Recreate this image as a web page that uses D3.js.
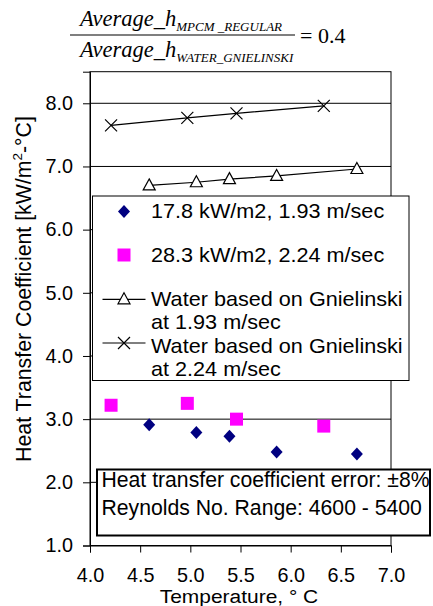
<!DOCTYPE html>
<html>
<head>
<meta charset="utf-8">
<script src="https://cdn.jsdelivr.net/npm/d3@7/dist/d3.min.js"></script>
<style>
  html, body { margin: 0; padding: 0; background: #fff; }
  svg { display: block; }
  text { font-family: "Liberation Sans", Arial, sans-serif; fill: #000; }
  .serif { font-family: "Liberation Serif", "Times New Roman", serif; }
</style>
</head>
<body>
<svg id="chart" width="433" height="606"></svg>
<script>
// Temperatures (°C) for the 1.93 m/sec runs and the 2.24 m/sec runs
const tempLow = [4.59, 5.06, 5.39, 5.86, 6.66];
const tempHigh = [4.21, 4.97, 5.46, 6.33];

// Measured heat transfer coefficients [kW/m²-°C]
const hMpcmLow = [2.91, 2.79, 2.73, 2.48, 2.45];    // 17.8 kW/m2, 1.93 m/sec
const hMpcmHigh = [3.22, 3.25, 3.00, 2.89];         // 28.3 kW/m2, 2.24 m/sec

// Gnielinski correlation for water
const hWaterLow = [6.70, 6.75, 6.80, 6.85, 6.96];   // 1.93 m/sec
const hWaterHigh = [7.65, 7.77, 7.84, 7.96];        // 2.24 m/sec

const xTicks = [4.0, 4.5, 5.0, 5.5, 6.0, 6.5, 7.0];
const yTicks = [1, 2, 3, 4, 5, 6, 7, 8];

const legendLabels = [
  ["17.8 kW/m2, 1.93 m/sec"],
  ["28.3 kW/m2, 2.24 m/sec"],
  ["Water based on Gnielinski", "at 1.93 m/sec"],
  ["Water based on Gnielinski", "at 2.24 m/sec"]
];
const noteLines = [
  "Heat transfer coefficient error: \u00b18%",
  "Reynolds No. Range: 4600 - 5400"
];

const svg = d3.select("#chart");
const plotL = 90, plotR = 391, plotT = 71.7, plotB = 545.5;

const x = d3.scaleLinear().domain([4, 7]).range([plotL, plotR]);
const y = d3.scaleLinear().domain([1, 8.5]).range([plotB, plotT]);

// Gridlines
svg.append("g").selectAll("line").data(yTicks.filter(v => v > 1)).join("line")
  .attr("x1", plotL).attr("x2", plotR)
  .attr("y1", d => y(d)).attr("y2", d => y(d))
  .attr("stroke", "#000").attr("stroke-width", 1);

// Plot frame
svg.append("rect")
  .attr("x", plotL).attr("y", plotT)
  .attr("width", plotR - plotL).attr("height", plotB - plotT)
  .attr("fill", "none").attr("stroke", "#000").attr("stroke-width", 1);

// Axes
const yAxis = svg.append("g").attr("transform", `translate(${plotL},0)`)
  .call(d3.axisLeft(y).tickValues(yTicks).tickFormat(d3.format(".1f")).tickSizeOuter(0).tickSize(7).tickPadding(10));
const xAxis = svg.append("g").attr("transform", `translate(0,${plotB})`)
  .call(d3.axisBottom(x).tickValues(xTicks).tickFormat(d3.format(".1f")).tickSizeOuter(0).tickSize(7).tickPadding(15.5));
[yAxis, xAxis].forEach(a => {
  a.select(".domain").attr("stroke", "#000");
  a.selectAll(".tick line").attr("stroke", "#000");
  a.selectAll("text").attr("font-size", 19.8).attr("font-family", "Liberation Sans, Arial, sans-serif").attr("fill", "#000");
});

// Marker shapes
const triPath = "M0,-6.5L6,4.5L-6,4.5Z";
const crossPath = "M-6,-6L6,6M-6,6L6,-6";
const diamondPath = "M0,-6.5L6,0L0,6.5L-6,0Z";
const squarePath = "M-6.5,-6.5H6.5V6.5H-6.5Z";

const line = d3.line().x(d => x(d[0])).y(d => y(d[1]));

function drawSeries(xs, ys, path, opts) {
  const pts = xs.map((v, i) => [v, ys[i]]);
  if (opts.line) {
    svg.append("path").datum(pts).attr("d", line)
      .attr("fill", "none").attr("stroke", "#000").attr("stroke-width", 1.2);
  }
  svg.append("g").selectAll("path").data(pts).join("path")
    .attr("transform", d => `translate(${x(d[0])},${y(d[1])})`)
    .attr("d", path)
    .attr("fill", opts.fill).attr("stroke", opts.stroke).attr("stroke-width", opts.sw || 1.2);
}

drawSeries(tempHigh, hWaterHigh, crossPath, { line: true, fill: "none", stroke: "#000" });
drawSeries(tempLow, hWaterLow, triPath, { line: true, fill: "#fff", stroke: "#000" });
drawSeries(tempLow, hMpcmLow, diamondPath, { fill: "#000080", stroke: "none" });
drawSeries(tempHigh, hMpcmHigh, squarePath, { fill: "#ff00ff", stroke: "none" });

// Legend
const lg = svg.append("g");
lg.append("rect").attr("x", 92.5).attr("y", 196).attr("width", 316.5).attr("height", 184.5)
  .attr("fill", "#fff").attr("stroke", "#000").attr("stroke-width", 1);
const symX = 124, textX = 151;
const symRows = [211.5, 255, 299.3, 343];
lg.append("path").attr("transform", `translate(${symX},${symRows[0]})`).attr("d", diamondPath).attr("fill", "#000080");
lg.append("path").attr("transform", `translate(${symX},${symRows[1]})`).attr("d", squarePath).attr("fill", "#ff00ff");
[[2, triPath, "#fff"], [3, crossPath, "none"]].forEach(([i, p, f]) => {
  lg.append("line").attr("x1", 102.5).attr("x2", 145.5).attr("y1", symRows[i]).attr("y2", symRows[i])
    .attr("stroke", "#000").attr("stroke-width", 1.2);
  lg.append("path").attr("transform", `translate(${symX},${symRows[i]})`).attr("d", p)
    .attr("fill", f).attr("stroke", "#000").attr("stroke-width", 1.2);
});
const textRows = [217.5, 261.5, 306, 352.5];
legendLabels.forEach((lines, i) => {
  lines.forEach((t, j) => {
    lg.append("text")
      .attr("transform", `translate(${textX},${textRows[i] + j * 23}) scale(1.04,1)`)
      .attr("font-size", 20.8).text(t);
  });
});

// Note box
const nb = svg.append("g");
nb.append("rect").attr("x", 97).attr("y", 469.5).attr("width", 333).attr("height", 66)
  .attr("fill", "#fff").attr("stroke", "#000").attr("stroke-width", 2);
noteLines.forEach((t, i) => {
  nb.append("text").attr("x", 101.5).attr("y", 487 + i * 28).attr("font-size", 21.2).text(t);
});

// Axis titles
svg.append("text").attr("transform", "translate(239,603) scale(1.12,1)").attr("text-anchor", "middle")
  .attr("font-size", 18.7).text("Temperature, \u00b0 C");
const yt = svg.append("text").attr("transform", "translate(31,289) rotate(-90)")
  .attr("text-anchor", "middle").attr("font-size", 21.3);
yt.append("tspan").text("Heat Transfer Coefficient [kW/m");
yt.append("tspan").attr("font-size", 13.5).attr("dy", -9).text("2");
yt.append("tspan").attr("dy", 9).text("-\u00b0C]");

// Ratio formula heading
const f = svg.append("g").attr("class", "serif");
function fracRow(yb, sub) {
  const t = f.append("text").attr("class", "serif").attr("x", 80).attr("y", yb)
    .attr("font-size", 22.5).attr("font-style", "italic");
  t.append("tspan").text("Average_h");
  t.append("tspan").attr("font-size", 13).attr("dy", 5).text(sub);
}
fracRow(25.5, "MPCM _REGULAR");
fracRow(57, "WATER_GNIELINSKI");
f.append("line").attr("x1", 70).attr("x2", 295).attr("y1", 35).attr("y2", 35)
  .attr("stroke", "#000").attr("stroke-width", 1.2);
f.append("text").attr("class", "serif").attr("x", 300).attr("y", 42.5).attr("font-size", 22).text("= 0.4");
</script>
</body>
</html>
